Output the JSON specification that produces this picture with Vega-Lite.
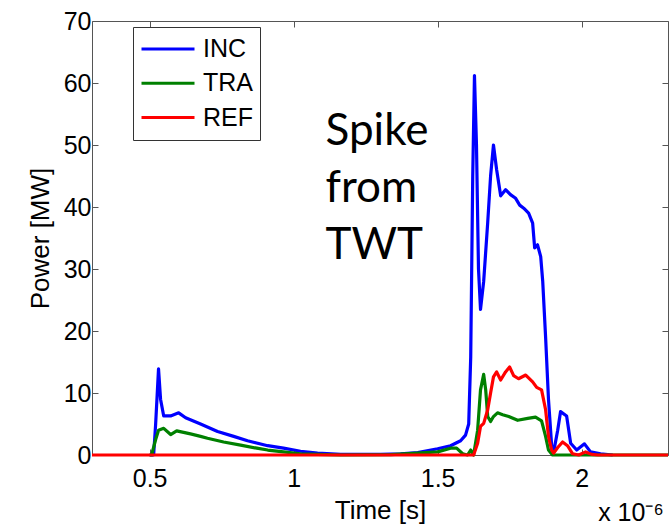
{
  "$schema": "https://vega.github.io/schema/vega-lite/v6.json",
  "width": 576,
  "height": 434,
  "autosize": {"type": "none"},
  "padding": {"left": 92, "top": 21, "right": 4, "bottom": 70},
  "background": "white",
  "config": {
    "view": {"stroke": null},
    "font": "Liberation Sans",
    "axis": {
      "grid": false,
      "domainColor": "#555555",
      "domainWidth": 1,
      "tickColor": "#555555",
      "tickSize": -6,
      "labelColor": "black",
      "labelFont": "Liberation Sans",
      "labelFontSize": 25,
      "titleFont": "Liberation Sans",
      "titleFontSize": 26,
      "titleFontWeight": "normal",
      "titleColor": "black"
    },
    "legend": {
      "orient": "none",
      "legendX": 41,
      "legendY": 6,
      "strokeColor": "#333333",
      "fillColor": "white",
      "padding": 7,
      "symbolType": "stroke",
      "symbolSize": 2809,
      "symbolStrokeWidth": 3,
      "clipHeight": 30,
      "rowPadding": 4.3,
      "labelFont": "Liberation Sans",
      "labelFontSize": 25,
      "labelColor": "black",
      "labelOffset": 7,
      "cornerRadius": 0
    }
  },
  "datasets": {
    "series": [
      {"s": "INC", "t": 0.5, "p": 0}, {"s": "INC", "t": 0.514, "p": 0}, {"s": "INC", "t": 0.521, "p": 5}, {"s": "INC", "t": 0.531, "p": 13.9}, {"s": "INC", "t": 0.538, "p": 9}, {"s": "INC", "t": 0.549, "p": 6.3}, {"s": "INC", "t": 0.573, "p": 6.3}, {"s": "INC", "t": 0.601, "p": 6.8}, {"s": "INC", "t": 0.625, "p": 6.0}, {"s": "INC", "t": 0.677, "p": 5.0}, {"s": "INC", "t": 0.736, "p": 3.8}, {"s": "INC", "t": 0.792, "p": 3.0}, {"s": "INC", "t": 0.84, "p": 2.3}, {"s": "INC", "t": 0.91, "p": 1.5}, {"s": "INC", "t": 0.965, "p": 1.1}, {"s": "INC", "t": 1.024, "p": 0.6}, {"s": "INC", "t": 1.083, "p": 0.3}, {"s": "INC", "t": 1.163, "p": 0.1}, {"s": "INC", "t": 1.302, "p": 0.1}, {"s": "INC", "t": 1.372, "p": 0.2}, {"s": "INC", "t": 1.431, "p": 0.4}, {"s": "INC", "t": 1.5, "p": 1.0}, {"s": "INC", "t": 1.545, "p": 1.5}, {"s": "INC", "t": 1.58, "p": 2.3}, {"s": "INC", "t": 1.597, "p": 3.2}, {"s": "INC", "t": 1.608, "p": 5}, {"s": "INC", "t": 1.615, "p": 15.8}, {"s": "INC", "t": 1.622, "p": 45}, {"s": "INC", "t": 1.628, "p": 61.2}, {"s": "INC", "t": 1.635, "p": 50}, {"s": "INC", "t": 1.642, "p": 30}, {"s": "INC", "t": 1.649, "p": 23.5}, {"s": "INC", "t": 1.66, "p": 28}, {"s": "INC", "t": 1.674, "p": 37.5}, {"s": "INC", "t": 1.684, "p": 45}, {"s": "INC", "t": 1.694, "p": 50}, {"s": "INC", "t": 1.705, "p": 46}, {"s": "INC", "t": 1.719, "p": 41.8}, {"s": "INC", "t": 1.736, "p": 42.8}, {"s": "INC", "t": 1.753, "p": 42}, {"s": "INC", "t": 1.771, "p": 41.4}, {"s": "INC", "t": 1.785, "p": 40.3}, {"s": "INC", "t": 1.799, "p": 39.8}, {"s": "INC", "t": 1.816, "p": 39}, {"s": "INC", "t": 1.83, "p": 37.4}, {"s": "INC", "t": 1.837, "p": 33.4}, {"s": "INC", "t": 1.847, "p": 33.9}, {"s": "INC", "t": 1.858, "p": 32}, {"s": "INC", "t": 1.865, "p": 28}, {"s": "INC", "t": 1.875, "p": 19}, {"s": "INC", "t": 1.885, "p": 9}, {"s": "INC", "t": 1.896, "p": 1.5}, {"s": "INC", "t": 1.903, "p": 0.5}, {"s": "INC", "t": 1.917, "p": 4}, {"s": "INC", "t": 1.927, "p": 7}, {"s": "INC", "t": 1.948, "p": 6.3}, {"s": "INC", "t": 1.962, "p": 1.9}, {"s": "INC", "t": 1.983, "p": 0.8}, {"s": "INC", "t": 2.01, "p": 1.8}, {"s": "INC", "t": 2.031, "p": 0.5}, {"s": "INC", "t": 2.066, "p": 0.2}, {"s": "INC", "t": 2.108, "p": 0},
      {"s": "TRA", "t": 0.5, "p": 0}, {"s": "TRA", "t": 0.507, "p": 0}, {"s": "TRA", "t": 0.521, "p": 2.5}, {"s": "TRA", "t": 0.531, "p": 4.0}, {"s": "TRA", "t": 0.549, "p": 4.3}, {"s": "TRA", "t": 0.573, "p": 3.3}, {"s": "TRA", "t": 0.594, "p": 3.9}, {"s": "TRA", "t": 0.642, "p": 3.4}, {"s": "TRA", "t": 0.677, "p": 3.0}, {"s": "TRA", "t": 0.701, "p": 2.7}, {"s": "TRA", "t": 0.757, "p": 2.1}, {"s": "TRA", "t": 0.816, "p": 1.6}, {"s": "TRA", "t": 0.872, "p": 1.1}, {"s": "TRA", "t": 0.91, "p": 0.8}, {"s": "TRA", "t": 0.965, "p": 0.5}, {"s": "TRA", "t": 1.024, "p": 0.2}, {"s": "TRA", "t": 1.083, "p": 0.1}, {"s": "TRA", "t": 1.163, "p": 0}, {"s": "TRA", "t": 1.337, "p": 0.05}, {"s": "TRA", "t": 1.431, "p": 0.3}, {"s": "TRA", "t": 1.5, "p": 0.5}, {"s": "TRA", "t": 1.545, "p": 1.1}, {"s": "TRA", "t": 1.566, "p": 1.1}, {"s": "TRA", "t": 1.587, "p": 0.2}, {"s": "TRA", "t": 1.604, "p": 0}, {"s": "TRA", "t": 1.615, "p": 0.8}, {"s": "TRA", "t": 1.625, "p": 0}, {"s": "TRA", "t": 1.639, "p": 4}, {"s": "TRA", "t": 1.649, "p": 10.5}, {"s": "TRA", "t": 1.66, "p": 13}, {"s": "TRA", "t": 1.667, "p": 10.5}, {"s": "TRA", "t": 1.674, "p": 6.2}, {"s": "TRA", "t": 1.684, "p": 5.4}, {"s": "TRA", "t": 1.694, "p": 6.2}, {"s": "TRA", "t": 1.708, "p": 6.8}, {"s": "TRA", "t": 1.726, "p": 6.5}, {"s": "TRA", "t": 1.747, "p": 6.2}, {"s": "TRA", "t": 1.778, "p": 5.6}, {"s": "TRA", "t": 1.813, "p": 5.9}, {"s": "TRA", "t": 1.84, "p": 6.1}, {"s": "TRA", "t": 1.861, "p": 5.5}, {"s": "TRA", "t": 1.875, "p": 3.0}, {"s": "TRA", "t": 1.885, "p": 0.8}, {"s": "TRA", "t": 1.899, "p": 0}, {"s": "TRA", "t": 2.3, "p": 0},
      {"s": "REF", "t": 0.3, "p": 0}, {"s": "REF", "t": 1.625, "p": 0}, {"s": "REF", "t": 1.639, "p": 1.9}, {"s": "REF", "t": 1.649, "p": 4.6}, {"s": "REF", "t": 1.66, "p": 5.1}, {"s": "REF", "t": 1.674, "p": 7.3}, {"s": "REF", "t": 1.684, "p": 10}, {"s": "REF", "t": 1.694, "p": 12.6}, {"s": "REF", "t": 1.705, "p": 13.4}, {"s": "REF", "t": 1.719, "p": 12.1}, {"s": "REF", "t": 1.736, "p": 13.4}, {"s": "REF", "t": 1.75, "p": 14.2}, {"s": "REF", "t": 1.764, "p": 12.8}, {"s": "REF", "t": 1.781, "p": 12.3}, {"s": "REF", "t": 1.806, "p": 12.9}, {"s": "REF", "t": 1.83, "p": 11.8}, {"s": "REF", "t": 1.844, "p": 10.9}, {"s": "REF", "t": 1.861, "p": 10.5}, {"s": "REF", "t": 1.875, "p": 7.3}, {"s": "REF", "t": 1.885, "p": 3}, {"s": "REF", "t": 1.896, "p": 0.8}, {"s": "REF", "t": 1.903, "p": 0.3}, {"s": "REF", "t": 1.917, "p": 1.2}, {"s": "REF", "t": 1.934, "p": 2.1}, {"s": "REF", "t": 1.951, "p": 1.5}, {"s": "REF", "t": 1.969, "p": 0.2}, {"s": "REF", "t": 1.99, "p": 0}, {"s": "REF", "t": 2.014, "p": 0.5}, {"s": "REF", "t": 2.035, "p": 0.1}, {"s": "REF", "t": 2.056, "p": 0}, {"s": "REF", "t": 2.3, "p": 0}
    ],
    "notes": [
      {"t": 1.111, "p": 50, "label": "Spike\nfrom\nTWT"}
    ],
    "exponent": [
      {"t": 2.285, "p": -10.7, "label": "x 10⁻⁶"}
    ]
  },
  "layer": [
    {
      "layer": [
        {
          "data": {"name": "series"},
          "transform": [{"filter": "datum.s === 'INC'"}],
          "mark": {"type": "line", "strokeWidth": 3.2, "strokeJoin": "round"},
          "encoding": {
            "x": {"field": "t", "type": "quantitative", "scale": {"domain": [0.3, 2.3], "nice": false},
              "axis": {"values": [0.5, 1, 1.5, 2], "labelExpr": "format(datum.value, '~g')", "title": "Time [s]", "labelPadding": 17, "titlePadding": 6, "labelFlush": false}},
            "y": {"field": "p", "type": "quantitative", "scale": {"domain": [0, 70], "nice": false},
              "axis": {"values": [0, 10, 20, 30, 40, 50, 60, 70], "title": "Power [MW]", "labelPadding": 7, "titlePadding": 10}},
            "color": {"field": "s", "type": "nominal",
              "scale": {"domain": ["INC", "TRA", "REF"], "range": ["#0000ff", "#008000", "#ff0000"]},
              "legend": {"title": null}}
          }
        },
        {
          "data": {"name": "series"},
          "transform": [{"filter": "datum.s === 'TRA'"}],
          "mark": {"type": "line", "strokeWidth": 3.2, "strokeJoin": "round"},
          "encoding": {
            "x": {"field": "t", "type": "quantitative"},
            "y": {"field": "p", "type": "quantitative"},
            "color": {"field": "s", "type": "nominal"}
          }
        },
        {
          "data": {"name": "series"},
          "transform": [{"filter": "datum.s === 'REF'"}],
          "mark": {"type": "line", "strokeWidth": 3.2, "strokeJoin": "round"},
          "encoding": {
            "x": {"field": "t", "type": "quantitative"},
            "y": {"field": "p", "type": "quantitative"},
            "color": {"field": "s", "type": "nominal"}
          }
        },
        {
          "data": {"name": "exponent"},
          "mark": {"type": "text", "align": "right", "baseline": "alphabetic", "font": "Liberation Sans", "fontSize": 25, "color": "black"},
          "encoding": {
            "x": {"field": "t", "type": "quantitative"},
            "y": {"field": "p", "type": "quantitative"},
            "text": {"field": "label"}
          }
        }
      ]
    },
    {
      "data": {"name": "notes"},
      "mark": {"type": "text", "align": "left", "baseline": "alphabetic", "font": "Lato", "fontSize": 44, "lineHeight": 57, "lineBreak": "\n", "color": "black"},
      "encoding": {
        "x": {"field": "t", "type": "quantitative", "scale": {"domain": [0.3, 2.3], "nice": false},
          "axis": {"orient": "top", "values": [0.5, 1, 1.5, 2], "labels": false, "title": null}},
        "y": {"field": "p", "type": "quantitative", "scale": {"domain": [0, 70], "nice": false},
          "axis": {"orient": "right", "values": [0, 10, 20, 30, 40, 50, 60, 70], "labels": false, "title": null}},
        "text": {"field": "label"}
      }
    }
  ],
  "resolve": {"axis": {"x": "independent", "y": "independent"}}
}
